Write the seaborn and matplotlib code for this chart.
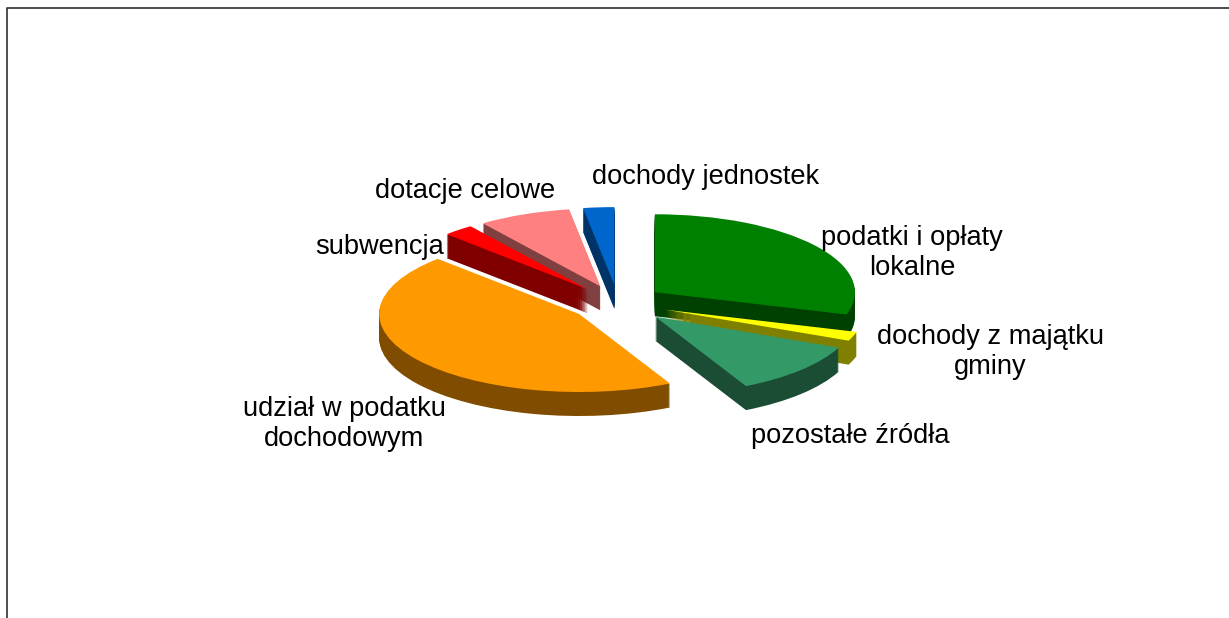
import numpy as np
import matplotlib
matplotlib.use("Agg")
import matplotlib.pyplot as plt
from matplotlib.lines import Line2D
import seaborn as sns

sns.set_theme(style="white")
plt.rcParams['font.family'] = ['Liberation Sans', 'DejaVu Sans']

categories = ["podatki i opłaty lokalne", "dochody z majątku gminy", "pozostałe źródła",
              "udział w podatku dochodowym", "subwencja", "dotacje celowe", "dochody jednostek"]
values = [29.6, 1.9, 11.0, 45.0, 2.5, 7.5, 2.5]
top_colors = ["#008000", "#FFFF00", "#339966", "#FF9900", "#FF0000", "#FF8080", "#0066CC"]
side_colors = ["#004000", "#808000", "#1A4D33", "#804C00", "#800000", "#804040", "#003366"]
draw_rank = [0, 5, 6, 4, 3, 2, 1]
explode = [0.23, 0.25, 0.255, 0.24, 0.23, 0.23, 0.23]

W, H = 1229, 618
CX, CY, RX, RY, DEPTH = 618, 303, 200, 78, 24
YELLOW = 1

fig = plt.figure(figsize=(W / 100, H / 100), dpi=100, facecolor="white")
ax = fig.add_axes([0, 0, 1, 1])

for d in list(np.arange(DEPTH, 0, -1)) + [0]:
    cols = top_colors if d == 0 else side_colors
    wedges, _ = ax.pie(values, colors=cols, explode=explode, startangle=90, counterclock=False,
                       center=(0, -d / RY), radius=1, wedgeprops={"linewidth": 0})
    for i, (w, r) in enumerate(zip(wedges, draw_rank)):
        w.set_zorder(r * 100 + (DEPTH - d) + 1)
        if d == 0 and i == YELLOW:
            w.set_zorder(900)

ax.set_aspect("auto")
ax.set_xlim(-CX / RX, (W - CX) / RX)
ax.set_ylim(-(H - CY) / RY, CY / RY)
ax.axis("off")

labels = [("dochody jednostek", 706, 177), ("dotacje celowe", 465, 191), ("subwencja", 380, 247),
          ("podatki i opłaty\nlokalne", 912, 253), ("dochody z majątku\ngminy", 990, 352),
          ("pozostałe źródła", 850, 436), ("udział w podatku\ndochodowym", 344, 424)]
for txt, x, y in labels:
    ax.text(x / W, 1 - y / H, txt, transform=ax.transAxes, ha="center", va="center",
            fontsize=19.6, color="black", linespacing=1.2, zorder=2000)

fig.add_artist(Line2D([7 / W, 7 / W, 1], [0, 1 - 8 / H, 1 - 8 / H], color="#303030", lw=1.2))

fig.savefig("out.png", dpi=100, facecolor="white")
